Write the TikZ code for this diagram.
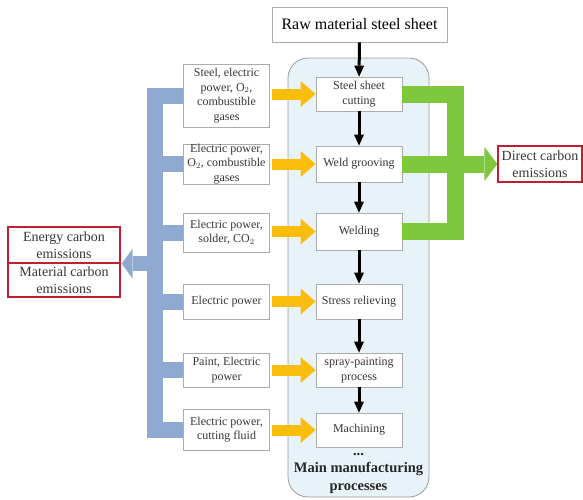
\documentclass[tikz,border=0pt]{standalone}
\usepackage{fontspec}
\setmainfont{Liberation Serif}
\usetikzlibrary{arrows.meta}

\definecolor{inflow}{RGB}{250,190,10}
\definecolor{busblue}{RGB}{143,169,208}
\definecolor{busgreen}{RGB}{126,200,62}
\definecolor{emisred}{RGB}{192,32,45}
\definecolor{boxgray}{RGB}{172,172,172}
\definecolor{procbg}{RGB}{232,243,249}
\definecolor{txtgray}{RGB}{55,55,55}

\begin{document}
\begin{tikzpicture}[
    x=1pt, y=-1pt,
    % Estilos de las cajas
    inbox/.style={draw=boxgray, fill=white, line width=0.8pt, text=txtgray, align=center,
        minimum width=86pt, inner sep=0pt, font=\fontsize{12}{14.5}\selectfont},
    procbox/.style={draw=boxgray, fill=white, line width=0.8pt, text=txtgray, align=center,
        minimum width=86pt, inner sep=0pt, font=\fontsize{12}{15}\selectfont},
    emisbox/.style={draw=emisred, fill=white, line width=1.3pt, text=txtgray, align=center,
        inner sep=0pt, font=\fontsize{14}{17}\selectfont},
    % Estilos de flechas y barras
    flow/.style={line width=3pt, -{Triangle[length=11pt, width=10pt, line width=0pt]}},
    orarrow/.style={draw=inflow, line width=11pt, -{Triangle[length=15pt, width=26pt, line width=0pt]}},
    bluebus/.style={draw=busblue, line width=16pt, line join=miter},
    bluearrow/.style={draw=busblue, line width=15pt, -{Triangle[length=11pt, width=30pt, line width=0pt]}},
    greenbus/.style={draw=busgreen, line width=17pt, line join=miter},
    greenarrow/.style={draw=busgreen, line width=17pt, -{Triangle[length=13pt, width=34pt, line width=0pt]}}
]
\useasboundingbox (0,0) rectangle (583,499);

% ==========================================
% CONTENEDOR DE PROCESOS
% ==========================================
\draw[fill=procbg, draw=boxgray!90!black, line width=0.8pt, rounded corners=20pt]
    (288,58) rectangle (429,497);

\node[draw=boxgray, line width=0.8pt, fill=white, minimum width=175pt, minimum height=35pt,
    inner sep=0pt, font=\fontsize{16}{18}\selectfont] (raw) at (359.5,24.5) {Raw material steel sheet};

% Procesos principales
\node[procbox, minimum height=34pt] (p1) at (359,94)    {Steel sheet\\cutting};
\node[procbox, minimum height=36pt] (p2) at (359,164)   {Weld grooving};
\node[procbox, minimum height=37pt] (p3) at (359,231.5) {Welding};
\node[procbox, minimum height=35pt] (p4) at (359,301.5) {Stress relieving};
\node[procbox, minimum height=34pt] (p5) at (359,370)   {spray-painting\\process};
\node[procbox, minimum height=34pt] (p6) at (359,430)   {Machining};

\node[font=\fontsize{14.5}{17}\selectfont\bfseries, text=black!85] (dots) at (358.5,455) {...};
\node[font=\fontsize{14.5}{17.5}\selectfont\bfseries, align=center, text=black!85]
    (mtitle) at (358.5,478) {Main manufacturing\\processes};

% Entradas
\node[inbox, minimum height=63pt] (b1) at (226.5,95.5)  {Steel, electric\\power, O$_2$,\\combustible\\gases};
\node[inbox, minimum height=40pt] (b2) at (226.5,164)   {Electric power,\\O$_2$, combustible\\gases};
\node[inbox, minimum height=39pt] (b3) at (226.5,232.5) {Electric power,\\solder, CO$_2$};
\node[inbox, minimum height=35pt] (b4) at (226.5,301.5) {Electric power};
\node[inbox, minimum height=34pt] (b5) at (226.5,370)   {Paint, Electric\\power};
\node[inbox, minimum height=41pt] (b6) at (226.5,429.5) {Electric power,\\cutting fluid};

% Emisiones
\node[emisbox, minimum width=112pt, minimum height=36pt] (energy) at (64,245) {Energy carbon\\emissions};
\node[emisbox, minimum width=112pt, minimum height=34pt] (material) at (64,280) {Material carbon\\emissions};
\node[emisbox, minimum width=84pt, minimum height=36pt] (direct) at (540,164) {Direct carbon\\emissions};

% ==========================================
% FLECHAS DEL PROCESO
% ==========================================
\draw[flow] (raw) -- (p1);
\draw[flow] (p1) -- (p2);
\draw[flow] (p2) -- (p3);
\draw[flow] (p3) -- (p4);
\draw[flow] (p4) -- (p5);
\draw[flow] (p5) -- (p6);

\foreach \i in {1,...,6}{
    \draw[orarrow] ([xshift=2pt]b\i.east |- p\i.west) -- (p\i.west);
}

% Barra azul (emisiones de energia y material)
\coordinate (bbar) at (155,0);
\draw[bluebus] (b1.west) -- (b1.west -| bbar) -- (b6.west -| bbar) -- (b6.west);
\foreach \i in {2,...,5}{
    \draw[bluebus] (b\i.west) -- (b\i.west -| bbar);
}
\draw[bluearrow] (energy.south east -| bbar) -- ([xshift=1pt]energy.south east);

% Barra verde (emisiones directas)
\coordinate (gbar) at (455.5,0);
\draw[greenbus] (p1.east) -- (p1.east -| gbar) -- (p3.east -| gbar) -- (p3.east);
\draw[greenbus] (p2.east) -- (p2.east -| gbar);
\draw[greenarrow] (p2.east -| gbar) -- (direct.west);

\end{tikzpicture}
\end{document}
